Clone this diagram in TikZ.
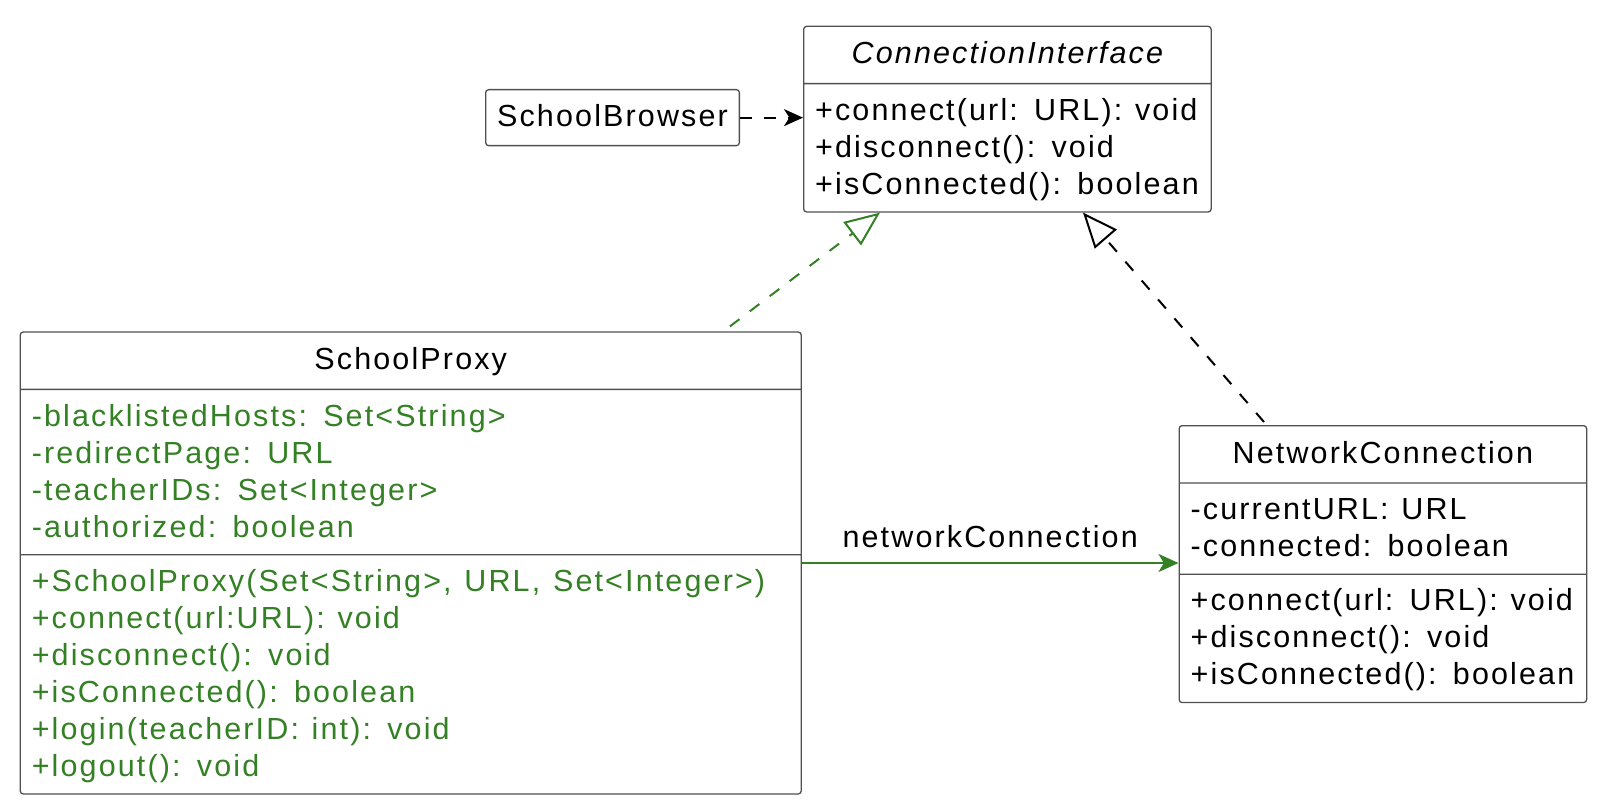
\documentclass[tikz,border=0pt]{standalone}
\usepackage{fontspec}
\setmainfont{Liberation Sans}[LetterSpace=7,WordSpace=1.2]
\usepackage{xcolor}
\usetikzlibrary{positioning,arrows.meta,shapes.multipart,calc}
\definecolor{umlgreen}{RGB}{52,128,36}
\definecolor{umlline}{RGB}{80,80,80}
\renewcommand\arraystretch{0}
\newcommand\umltitle[1]{\rule[-5.5pt]{0pt}{20pt}#1}
\newcommand\umlrow[1]{\rule[-4.5pt]{0pt}{18.5pt}#1}
\newcommand\umllines[1]{\begin{tabular}{@{}l@{}}#1\end{tabular}}

\begin{document}
\begin{tikzpicture}
	[x=0.5pt,y=-0.5pt,
	every node/.style={font=\fontsize{15.25pt}{18.5pt}\selectfont},
	umlbox/.style={draw=umlline,line width=0.65pt,rounded corners=1.5pt,inner xsep=5.75pt,inner ysep=4pt,anchor=north west},
	umlclass/.style={umlbox,rectangle split,rectangle split parts=3,rectangle split part align={center,left,left}},
	depends/.style={line width=1pt,dash pattern=on 6pt off 6pt,-{Stealth[length=9.5pt,width=8.5pt,inset=2.7pt]}},
	realizes/.style={line width=1pt,dash pattern=on 6pt off 6.5pt,-{Triangle[open,length=17.5pt,width=14.5pt]}},
	assoc/.style={draw=umlgreen,line width=1pt,-{Stealth[length=10pt,width=9pt,inset=2.7pt]}}]
	\useasboundingbox (0,0) rectangle (1614,808);
	\node[umlbox,minimum width=124pt] (browser) at (485,89) {\umltitle{SchoolBrowser}};
	\node[umlclass,rectangle split parts=2,minimum width=203.75pt] (iface) at (803,25.7)
		{\umltitle{\itshape ConnectionInterface}
		\nodepart{second}\umllines{\umlrow{+connect(url: URL): void}\\\umlrow{+disconnect(): void}\\\umlrow{+isConnected(): boolean}}};
	\node[umlclass,minimum width=390.5pt] (proxy) at (19.6,331.4)
		{\umltitle{SchoolProxy}
		\nodepart{second}\color{umlgreen}\umllines{\umlrow{-blacklistedHosts: Set<String>}\\\umlrow{-redirectPage: URL}\\\umlrow{-teacherIDs: Set<Integer>}\\\umlrow{-authorized: boolean}}
		\nodepart{third}\color{umlgreen}\umllines{\umlrow{+SchoolProxy(Set<String>, URL, Set<Integer>)}\\\umlrow{+connect(url:URL): void}\\\umlrow{+disconnect(): void}\\\umlrow{+isConnected(): boolean}\\\umlrow{+login(teacherID: int): void}\\\umlrow{+logout(): void}}};
	\node[umlclass,minimum width=203.75pt] (netconn) at (1178.5,425)
		{\umltitle{NetworkConnection}
		\nodepart{second}\umllines{\umlrow{-currentURL: URL}\\\umlrow{-connected: boolean}}
		\nodepart{third}\umllines{\umlrow{+connect(url: URL): void}\\\umlrow{+disconnect(): void}\\\umlrow{+isConnected(): boolean}}};
	% connectors
	\draw[depends] (browser.east) -- (browser.east -| iface.west);
	\draw[realizes,umlgreen] ($(proxy.north east)+(-72,-5)$) -- ($(iface.south west)+(77,0)$);
	\draw[realizes] ($(netconn.north west)+(85.5,-3)$) -- ($(iface.south west)+(280,0)$);
	\draw[assoc] (proxy.east) -- (proxy.east -| netconn.west) node[midway,anchor=base,yshift=7.75pt] {networkConnection};
\end{tikzpicture}
\end{document}
